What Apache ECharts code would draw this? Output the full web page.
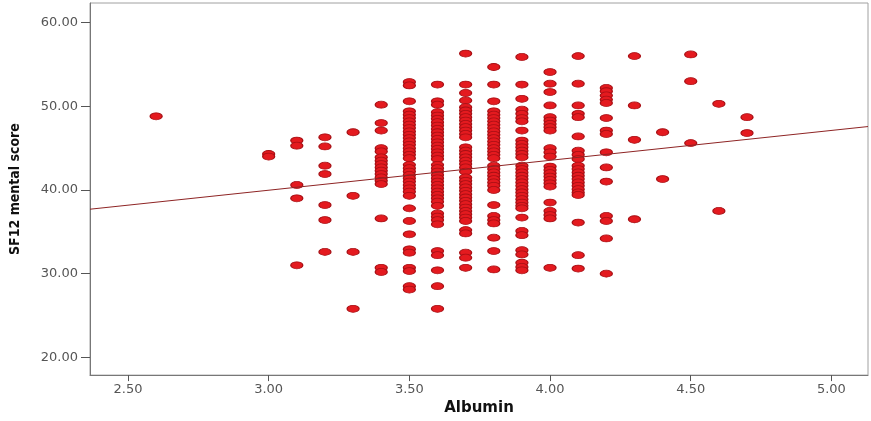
<!DOCTYPE html>
<html>
<head>
<meta charset="utf-8">
<script src="https://cdn.jsdelivr.net/npm/echarts@6/dist/echarts.min.js"></script>
<style>
html,body{margin:0;padding:0;background:#fff;}
#chart{width:871px;height:421px;}
</style>
</head>
<body>
<div id="chart"></div>
<script>
// Albumin values (x) and SF12 mental score readings (y) per albumin column
const albuminLevels = [2.6, 3.0, 3.1, 3.2, 3.3, 3.4, 3.5, 3.6, 3.7, 3.8, 3.9, 4.0, 4.1, 4.2, 4.3, 4.4, 4.5, 4.6, 4.7];

const sf12_2_6 = [48.8];
const sf12_3_0 = [44.3, 44.0];
const sf12_3_1 = [45.9, 45.3, 40.6, 39.0, 31.0];
const sf12_3_2 = [46.3, 45.2, 42.9, 41.9, 38.2, 36.4, 32.6];
const sf12_3_3 = [46.9, 39.3, 32.6, 25.8];
const sf12_3_4 = [50.2, 48.0, 47.1, 45.0, 44.6, 43.9, 43.5, 43.1, 42.7, 42.3, 41.9, 41.5, 41.1, 40.7, 36.6, 30.7, 30.2];
const sf12_3_5 = [52.9, 52.5, 50.6, 49.4, 49.0, 48.6, 48.2, 47.8, 47.4, 47.0, 46.6, 46.2, 45.8, 45.4, 45.0, 44.6, 44.2, 43.8, 43.0, 42.6, 42.2, 41.8, 41.4, 41.0, 40.6, 40.2, 39.8, 39.3, 37.8, 36.3, 34.7, 32.9, 32.5, 30.7, 30.3, 28.5, 28.1];
const sf12_3_6 = [52.6, 50.6, 50.2, 49.3, 48.9, 48.5, 48.1, 47.7, 47.3, 46.9, 46.5, 46.1, 45.7, 45.3, 44.9, 44.5, 44.1, 43.7, 43.0, 42.6, 42.2, 41.8, 41.4, 41.0, 40.6, 40.2, 39.8, 39.4, 39.0, 38.6, 38.1, 37.2, 36.8, 36.4, 35.9, 32.7, 32.2, 30.4, 28.5, 25.8];
const sf12_3_7 = [56.3, 52.6, 51.6, 50.7, 49.9, 49.5, 49.1, 48.7, 48.3, 47.9, 47.5, 47.1, 46.7, 46.3, 45.1, 44.7, 44.3, 43.9, 43.5, 43.1, 42.7, 42.2, 41.5, 41.1, 40.7, 40.3, 39.9, 39.5, 39.1, 38.7, 38.3, 37.9, 37.5, 37.1, 36.7, 36.3, 35.2, 34.8, 32.5, 31.9, 30.7];
const sf12_3_8 = [54.7, 52.6, 50.6, 49.4, 49.0, 48.6, 48.2, 47.8, 47.4, 47.0, 46.6, 46.2, 45.8, 45.4, 45.0, 44.6, 44.2, 43.8, 42.9, 42.5, 42.1, 41.7, 41.3, 40.9, 40.5, 40.0, 38.2, 36.9, 36.4, 36.0, 34.3, 32.7, 30.5];
const sf12_3_9 = [55.9, 52.6, 50.9, 49.6, 49.1, 48.6, 48.2, 47.1, 45.9, 45.5, 45.1, 44.7, 44.3, 43.9, 42.9, 42.5, 42.1, 41.7, 41.3, 40.9, 40.5, 40.1, 39.7, 39.3, 38.9, 38.5, 38.1, 37.8, 36.7, 35.1, 34.6, 32.8, 32.3, 31.3, 30.8, 30.4];
const sf12_4_0 = [54.1, 52.7, 51.7, 50.1, 48.7, 48.3, 47.9, 47.5, 47.1, 45.0, 44.5, 44.0, 42.8, 42.4, 42.0, 41.6, 41.2, 40.8, 40.4, 38.5, 37.5, 37.0, 36.6, 30.7];
const sf12_4_1 = [56.0, 52.7, 50.1, 49.1, 48.7, 46.4, 44.7, 44.2, 43.7, 42.9, 42.5, 42.1, 41.7, 41.3, 40.9, 40.5, 40.1, 39.7, 39.4, 36.1, 32.2, 30.6];
const sf12_4_2 = [52.2, 51.8, 51.3, 50.8, 50.4, 48.6, 47.1, 46.7, 44.5, 42.7, 41.0, 36.9, 36.3, 34.2, 30.0];
const sf12_4_3 = [56.0, 50.1, 46.0, 36.5];
const sf12_4_4 = [46.9, 41.3];
const sf12_4_5 = [56.2, 53.0, 45.6];
const sf12_4_6 = [50.3, 37.5];
const sf12_4_7 = [48.7, 46.8];

const sf12Columns = [sf12_2_6, sf12_3_0, sf12_3_1, sf12_3_2, sf12_3_3, sf12_3_4, sf12_3_5, sf12_3_6, sf12_3_7, sf12_3_8, sf12_3_9, sf12_4_0, sf12_4_1, sf12_4_2, sf12_4_3, sf12_4_4, sf12_4_5, sf12_4_6, sf12_4_7];

// Fit line endpoints (read at the x-axis extremes)
const fitX = [2.365, 5.13];
const fitY = [37.70, 47.58];

// Tick labels
const xTicks = [2.5, 3.0, 3.5, 4.0, 4.5, 5.0];
const yTicks = [20, 30, 40, 50, 60];

const points = [];
albuminLevels.forEach((x, i) => sf12Columns[i].forEach(y => points.push([x, y])));
const fitLine = fitX.map((x, i) => [x, fitY[i]]);

const chart = echarts.init(document.getElementById('chart'), null, {renderer: 'canvas'});
const labelFont = "'DejaVu Sans', Arial, sans-serif";
chart.setOption({
  backgroundColor: '#ffffff',
  animation: false,
  grid: {left: 90, right: 3, top: 3, bottom: 42, show: true, borderColor: '#a0a0a0', borderWidth: 1, backgroundColor: 'transparent'},
  xAxis: {
    type: 'value', min: 2.365, max: 5.13,
    name: 'Albumin', nameLocation: 'middle', nameGap: 24,
    nameTextStyle: {fontFamily: labelFont, fontWeight: 'bold', fontSize: 15, color: '#111'},
    axisLine: {show: true, lineStyle: {color: '#777', width: 1}},
    axisTick: {show: true, length: 6, inside: false, customValues: xTicks, lineStyle: {color: '#555'}},
    axisLabel: {customValues: xTicks, margin: 8, fontFamily: labelFont, fontSize: 13, color: '#555', formatter: v => v.toFixed(2)},
    splitLine: {show: false}
  },
  yAxis: {
    type: 'value', min: 17.87, max: 62.35,
    name: 'SF12 mental score', nameLocation: 'middle', nameGap: 68,
    nameTextStyle: {fontFamily: "'Liberation Sans Narrow', 'DejaVu Sans Condensed', Arial, sans-serif", fontWeight: 'bold', fontSize: 14, color: '#111'},
    axisLine: {show: true, lineStyle: {color: '#777', width: 1}},
    axisTick: {show: true, length: 9, inside: false, customValues: yTicks, lineStyle: {color: '#555'}},
    axisLabel: {customValues: yTicks, margin: 12, fontFamily: labelFont, fontSize: 13, color: '#555', formatter: v => v.toFixed(2)},
    splitLine: {show: false}
  },
  series: [
    {
      type: 'scatter',
      data: points,
      symbol: 'circle',
      symbolSize: [12, 7],
      itemStyle: {color: '#e41a1f', borderColor: '#a80f14', borderWidth: 1, opacity: 1},
      silent: true,
      z: 2
    },
    {
      type: 'line',
      data: fitLine,
      showSymbol: false,
      symbol: 'none',
      lineStyle: {color: '#8e2424', width: 1},
      silent: true,
      z: 3
    }
  ]
});
</script>
</body>
</html>
